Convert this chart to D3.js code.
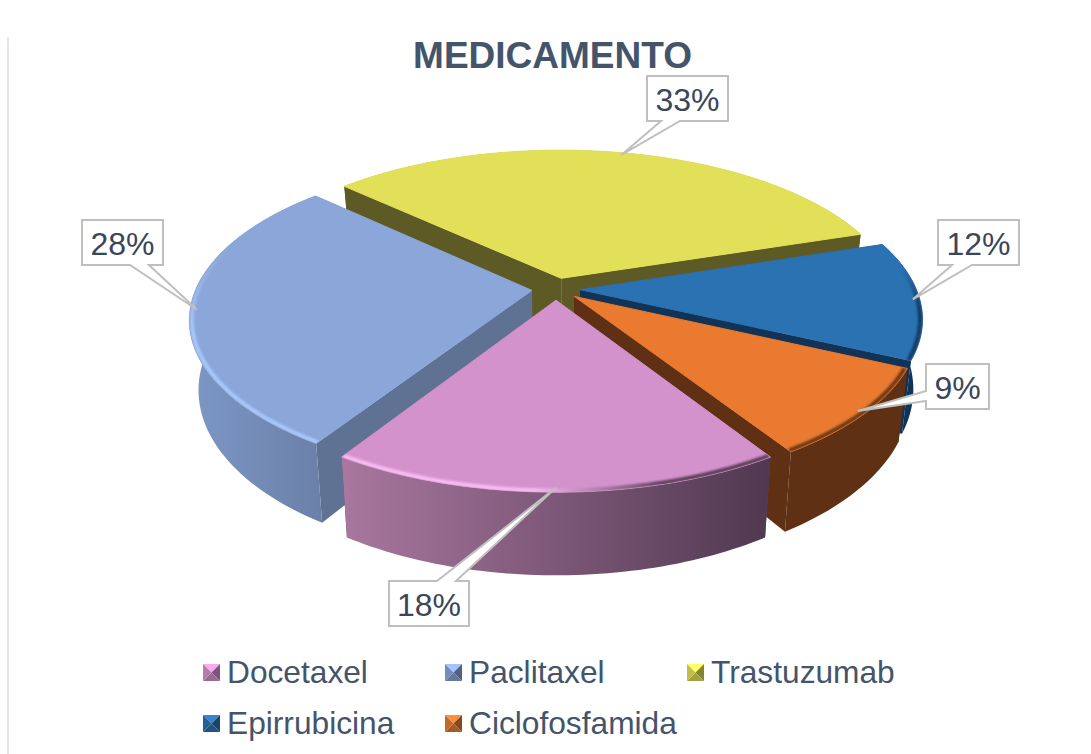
<!DOCTYPE html>
<html>
<head>
<meta charset="utf-8">
<script src="https://cdnjs.cloudflare.com/ajax/libs/d3/7.8.5/d3.min.js"></script>
<style>
  html, body { margin: 0; padding: 0; background: #fff; overflow: hidden; }
  text { font-family: "Liberation Sans", Arial, sans-serif; }
</style>
</head>
<body>
<div id="chart"></div>
<script>
const categories = ["Docetaxel", "Paclitaxel", "Trastuzumab", "Epirrubicina", "Ciclofosfamida"];
const values = [18, 28, 33, 12, 9];

const topColors = ["#d492cc", "#8ba6d8", "#e2e058", "#2b72b3", "#e97a30"];
const sideColors = ["#5d4a63", "#5f7294", "#5e5a25", "#123355", "#5f3013"];
const wallLeft = ["#a9779f", "#7d97c6", "#5e5a25", "#123355", "#5f3013"];
const wallRight = ["#503850", "#6a80a8", "#5e5a25", "#123355", "#5f3013"];
// bevel colours at the start and end of each rim gradient
const rimFrom = ["#f8bdf2", "#8ba6d8", "#e2e058", "#2b72b3", "#6a3716"];
const rimTo = ["#5a3f58", "#a8c8fc", "#e2e058", "#14395f", "#6a3716"];
// paclitaxel and epirrubicina fade in from the top, the others run left to right
const rimVertical = [false, true, false, true, false];

// painter's order, back to front
const drawOrder = [2, 3, 1, 4, 0];

// label box: x, y, w, h, and which side the callout wedge leaves from
const labelBoxes = [
  {x: 389, y: 581, w: 80, h: 45, side: "top", a: 437, b: 456},
  {x: 82, y: 220, w: 81, h: 45, side: "bottom", a: 130, b: 149},
  {x: 647, y: 76, w: 81, h: 45, side: "bottom", a: 661, b: 680},
  {x: 938, y: 220, w: 81, h: 45, side: "bottom", a: 952, b: 972},
  {x: 926, y: 364, w: 63, h: 45, side: "left", a: 391, b: 401}
];

const legendPos = [[203, 664], [445, 664], [687, 664], [203, 715], [445, 715]];

const width = 1091, height = 754;
const cx = 556, cy = 289;
const radiusX = 336, radiusY = 154;
const persp = 0.175, explode = 0.072;
const depth = 67.5, shrink = 0.025;

const svg = d3.select("#chart").append("svg")
  .attr("width", width)
  .attr("height", height);

const defs = svg.append("defs");
defs.append("filter").attr("id", "soft")
  .attr("x", "-10%").attr("y", "-10%").attr("width", "120%").attr("height", "120%")
  .append("feGaussianBlur").attr("stdDeviation", 1.1);

// pie plane -> screen, z = 0 top face, z = 1 bottom face
function project(u, v, z) {
  const s = 1 / (1 - persp * v);
  return [
    cx + radiusX * u * s * (1 - shrink * z),
    cy + (radiusY * v + depth * z) * s
  ];
}

const pie = d3.pie().sort(null)
  .startAngle(147.6 * Math.PI / 180)
  .endAngle((147.6 + 360) * Math.PI / 180);
const arcs = pie(values);

const line = d3.line();

function sliceGeom(d) {
  const mid = (d.startAngle + d.endAngle) / 2;
  const ox = explode * Math.sin(mid), oy = -explode * Math.cos(mid);
  const n = Math.ceil((d.endAngle - d.startAngle) / 0.02);
  const angles = d3.range(n + 1).map(i => d.startAngle + (d.endAngle - d.startAngle) * i / n);
  const rim = (z, r) => angles.map(a => project(ox + r * Math.sin(a), oy - r * Math.cos(a), z));
  return {mid, ox, oy, rim, apex: z => project(ox, oy, z)};
}

const slices = svg.append("g");

drawOrder.forEach(i => {
  const d = arcs[i];
  const geom = sliceGeom(d);
  const g = slices.append("g");
  const top = geom.rim(0, 1), bottom = geom.rim(1, 1);

  // the two cut faces
  [[top[0], bottom[0]], [top[top.length - 1], bottom[bottom.length - 1]]].forEach(edge => {
    g.append("path")
      .attr("d", line([geom.apex(0), edge[0], edge[1], geom.apex(1)]) + "Z")
      .attr("fill", sideColors[i]);
  });

  // outer wall
  const xs = top.concat(bottom).map(p => p[0]);
  const wall = defs.append("linearGradient")
    .attr("id", "wall" + i)
    .attr("gradientUnits", "userSpaceOnUse")
    .attr("x1", d3.min(xs)).attr("x2", d3.max(xs))
    .attr("y1", 0).attr("y2", 0);
  wall.append("stop").attr("offset", 0).attr("stop-color", wallLeft[i]);
  wall.append("stop").attr("offset", 1).attr("stop-color", wallRight[i]);
  g.append("path")
    .attr("d", line(top.concat(bottom.slice().reverse())) + "Z")
    .attr("fill", "url(#wall" + i + ")");

  // top face
  const face = line([geom.apex(0)].concat(top)) + "Z";
  g.append("path")
    .attr("d", face)
    .attr("fill", topColors[i])
    .attr("stroke", topColors[i])
    .attr("stroke-width", 1)
    .attr("stroke-linejoin", "round");

  // bevel along the rim, kept inside the face
  defs.append("clipPath").attr("id", "clip" + i).append("path").attr("d", face);
  const rimXs = top.map(p => p[0]), rimYs = top.map(p => p[1]);
  const rimGrad = defs.append("linearGradient")
    .attr("id", "rim" + i)
    .attr("gradientUnits", "userSpaceOnUse");
  if (rimVertical[i]) {
    rimGrad.attr("x1", 0).attr("x2", 0).attr("y1", d3.min(rimYs)).attr("y2", d3.max(rimYs));
    rimGrad.append("stop").attr("offset", 0.2).attr("stop-color", rimFrom[i]);
    rimGrad.append("stop").attr("offset", 0.55).attr("stop-color", rimTo[i]);
  } else {
    rimGrad.attr("x1", d3.min(rimXs)).attr("x2", d3.max(rimXs)).attr("y1", 0).attr("y2", 0);
    rimGrad.append("stop").attr("offset", 0.45).attr("stop-color", rimFrom[i]);
    rimGrad.append("stop").attr("offset", 0.75).attr("stop-color", rimTo[i]);
  }
  g.append("g").attr("clip-path", "url(#clip" + i + ")")
    .append("path")
    .attr("d", line(geom.rim(0, 0.993)))
    .attr("fill", "none")
    .attr("stroke", "url(#rim" + i + ")")
    .attr("stroke-width", 4)
    .attr("filter", "url(#soft)");
});

// faint rule on the left edge of the page
svg.append("line")
  .attr("x1", 8).attr("x2", 8)
  .attr("y1", 37).attr("y2", height)
  .attr("stroke", "#dfe5ea")
  .attr("stroke-width", 2);

svg.append("text")
  .attr("x", 552.5)
  .attr("y", 68)
  .attr("text-anchor", "middle")
  .attr("font-size", 37)
  .attr("font-weight", "bold")
  .attr("fill", "#44546a")
  .text("MEDICAMENTO");

// callout labels, the wedge points at the rim at each slice's mid angle
function callout(b, tip) {
  const x0 = b.x, y0 = b.y, x1 = b.x + b.w, y1 = b.y + b.h;
  let pts;
  if (b.side === "top") {
    pts = [[x0, y0], [b.a, y0], tip, [b.b, y0], [x1, y0], [x1, y1], [x0, y1]];
  } else if (b.side === "bottom") {
    pts = [[x0, y0], [x1, y0], [x1, y1], [b.b, y1], tip, [b.a, y1], [x0, y1]];
  } else {
    pts = [[x0, y0], [x1, y0], [x1, y1], [x0, y1], [x0, b.b], tip, [x0, b.a]];
  }
  return line(pts) + "Z";
}

const labels = svg.append("g");
arcs.forEach((d, i) => {
  const geom = sliceGeom(d);
  const r = 0.98;
  const tip = project(geom.ox + r * Math.sin(geom.mid), geom.oy - r * Math.cos(geom.mid), 0);
  const b = labelBoxes[i];
  labels.append("path")
    .attr("d", callout(b, tip))
    .attr("fill", "#fff")
    .attr("stroke", "#bfbfbf")
    .attr("stroke-width", 2);
  labels.append("text")
    .attr("x", b.x + b.w / 2)
    .attr("y", b.y + b.h / 2 + 12)
    .attr("text-anchor", "middle")
    .attr("font-size", 32)
    .attr("fill", "#3a465a")
    .text(values[i] + "%");
});

// legend with little bevelled keys
const keySize = 17;
const legend = svg.append("g");
categories.forEach((name, i) => {
  const [x, y] = legendPos[i];
  const c = d3.color(topColors[i]);
  const m = [x + keySize / 2, y + keySize / 2];
  const corners = [[x, y], [x + keySize, y], [x + keySize, y + keySize], [x, y + keySize]];
  const shades = [c.brighter(0.45), c.darker(1.5), c.darker(0.9), c.darker(0.45)];
  shades.forEach((shade, k) => {
    legend.append("path")
      .attr("d", line([corners[k], corners[(k + 1) % 4], m]) + "Z")
      .attr("fill", shade.formatHex());
  });
  legend.append("text")
    .attr("x", x + keySize + 7)
    .attr("y", y + 19)
    .attr("font-size", 31.7)
    .attr("fill", "#44546a")
    .text(name);
});
</script>
</body>
</html>
